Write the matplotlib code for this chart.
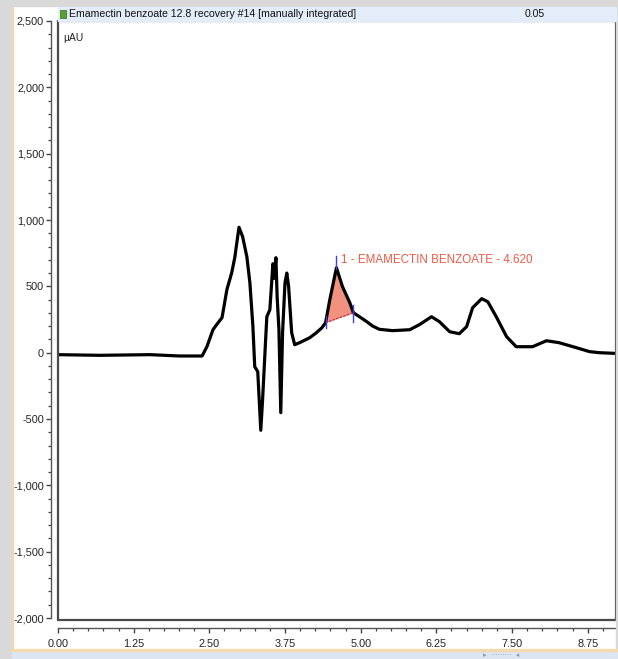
import numpy as np
import matplotlib
matplotlib.use("Agg")
import matplotlib.pyplot as plt
from matplotlib.patches import Rectangle
from matplotlib.ticker import MultipleLocator, FuncFormatter

# ---- data ----
rt_min = [0.00, 0.69, 1.52, 2.01, 2.38, 2.46, 2.56, 2.62, 2.71, 2.79, 2.87, 2.92,
          2.99, 3.05, 3.12, 3.17, 3.22, 3.25, 3.30, 3.35, 3.38, 3.43, 3.45, 3.50,
          3.55, 3.57, 3.60, 3.62, 3.65, 3.68, 3.71, 3.75, 3.78, 3.81, 3.86, 3.91,
          3.99, 4.16, 4.27, 4.36, 4.42, 4.49, 4.60, 4.70, 4.82, 4.88, 4.98, 5.10,
          5.20, 5.31, 5.53, 5.81, 5.97, 6.17, 6.30, 6.47, 6.63, 6.75, 6.85, 7.00,
          7.10, 7.24, 7.41, 7.57, 7.84, 8.07, 8.28, 8.56, 8.78, 8.94, 9.19]
signal_uau = [-15, -20, -15, -25, -25, 45, 173, 211, 264, 475, 603, 716,
              945, 874, 723, 527, 196, -106, -143, -585, -354, 98, 271, 324,
              670, 560, 716, 422, 173, -452, 151, 527, 600, 497, 151, 60,
              75, 113, 151, 188, 226, 399, 640, 497, 377, 301, 271, 234,
              200, 176, 166, 173, 211, 271, 234, 158, 143, 196, 339, 407,
              384, 271, 121, 45, 45, 90, 75, 38, 8, 0, -5]

peak_name = "1 - EMAMECTIN BENZOATE - 4.620"
peak_start, peak_apex, peak_end = 4.42, 4.60, 4.88
title_text = "Emamectin benzoate 12.8 recovery #14 [manually integrated]"
title_right = "0.05"
y_unit = "µAU"
x_major = [0.00, 1.25, 2.50, 3.75, 5.00, 6.25, 7.50, 8.75]
y_major = [-2000, -1500, -1000, -500, 0, 500, 1000, 1500, 2000, 2500]

plt.rcParams['font.family'] = ['Liberation Sans', 'DejaVu Sans']

W, H = 618, 659
fig = plt.figure(figsize=(W / 100, H / 100), dpi=100)
fig.patch.set_facecolor("white")

def fx(px):
    return px / W
def fy(py):
    return 1 - py / H

# window decorations
fig.patches.append(Rectangle((0, 0), fx(12), 1, transform=fig.transFigure, color="#d9d9d9", zorder=0))
fig.patches.append(Rectangle((fx(12), 0), fx(1.5), 1, transform=fig.transFigure, color="#f3d9b0", zorder=0))
fig.patches.append(Rectangle((0, fy(6)), 1, 6 / H, transform=fig.transFigure, color="#d9d9d9", zorder=0))
fig.patches.append(Rectangle((fx(615.5), 0), fx(2.5), 1, transform=fig.transFigure, color="#d9d9d9", zorder=0))
fig.patches.append(Rectangle((fx(12), 0), 1, 8.5 / H, transform=fig.transFigure, color="#dce6f2", zorder=0))
fig.patches.append(Rectangle((fx(12), 8.5 / H), 1, 1.8 / H, transform=fig.transFigure, color="#f3d9b0", zorder=0))
# title bar
fig.patches.append(Rectangle((fx(58), fy(21)), fx(615.5 - 58), 14 / H, transform=fig.transFigure,
                             color="#e3edf9", zorder=0))
fig.patches.append(Rectangle((fx(60), fy(18)), fx(6), 8 / H, transform=fig.transFigure,
                             facecolor="#5aa02c", edgecolor="#2f6b16", lw=0.5, zorder=1))
fig.text(fx(69), fy(14), title_text, fontsize=7.6, va="center", ha="left", color="#111111")
fig.text(fx(525), fy(14), title_right, fontsize=7.6, va="center", ha="left", color="#111111")
# scroll glyphs bottom
fig.text(fx(483), fy(655), "▸  ·········  ◂", fontsize=5, color="#8a9bb0", va="center", ha="left",
         family="DejaVu Sans")

ax = fig.add_axes([fx(58), fy(620), fx(615.5 - 58), (620 - 21) / H])
ax.plot(rt_min, signal_uau, color="black", lw=2.3, solid_joinstyle="round",
        solid_capstyle="round", zorder=3)

# integration area
xf = np.linspace(peak_start, peak_end, 60)
yf = np.interp(xf, rt_min, signal_uau)
y0 = np.interp(peak_start, rt_min, signal_uau)
y1 = np.interp(peak_end, rt_min, signal_uau)
yb = y0 + (y1 - y0) * (xf - peak_start) / (peak_end - peak_start)
ax.fill_between(xf, yb, yf, color="#f28b78", alpha=0.95, lw=0, zorder=2)
ax.plot([peak_start, peak_end], [y0, y1], color="#c0304a", lw=0.9, ls=(0, (2, 1)), zorder=4)
ya = np.interp(peak_apex, rt_min, signal_uau)
ax.plot([peak_start, peak_start], [y0 - 40, y0 + 50], color="#4040d8", lw=1.0, zorder=5)
ax.plot([peak_end, peak_end], [y1 - 70, y1 + 60], color="#4040d8", lw=1.0, zorder=5)
ax.plot([peak_apex, peak_apex], [ya - 10, ya + 85], color="#4040d8", lw=1.0, zorder=5)
ax.text(4.67, 700, peak_name, color="#ef5a48", fontsize=8.4, va="center", ha="left", zorder=6)

ax.text(0.01, 0.972, y_unit, transform=ax.transAxes, fontsize=7.4, va="center", ha="left", color="#222222")

ax.set_xlim(0, 9.21)
ax.set_ylim(-2015, 2500)

for s in ["top", "right"]:
    ax.spines[s].set_visible(False)
ax.spines["left"].set_position(("outward", 5))
ax.spines["bottom"].set_position(("outward", 6))
ax.spines["left"].set_bounds(-2000, 2500)
ax.spines["bottom"].set_bounds(0, 9.21)
for s in ["left", "bottom"]:
    ax.spines[s].set_color("#555555")
    ax.spines[s].set_linewidth(1.0)
ax.add_patch(Rectangle((0, 0), 1, 1, transform=ax.transAxes, fill=False,
                       edgecolor="#4a4a4a", lw=1.6, clip_on=False, zorder=10))

ax.set_xticks(x_major)
ax.set_yticks(y_major)
ax.xaxis.set_minor_locator(MultipleLocator(0.25))
ax.yaxis.set_minor_locator(MultipleLocator(100))
ax.xaxis.set_major_formatter(FuncFormatter(lambda v, p: f"{v:.2f}"))
ax.yaxis.set_major_formatter(FuncFormatter(lambda v, p: f"{int(round(v)):,}"))
ax.tick_params(axis="both", which="major", direction="out", length=3.5, width=1.0,
               color="#444444", labelsize=7.8, labelcolor="#222222", pad=1.5)
ax.tick_params(axis="both", which="minor", direction="out", length=2.2, width=0.9, color="#444444")
ax.tick_params(axis="x", which="major", pad=4)

fig.savefig("out.png", dpi=100, facecolor="white")
